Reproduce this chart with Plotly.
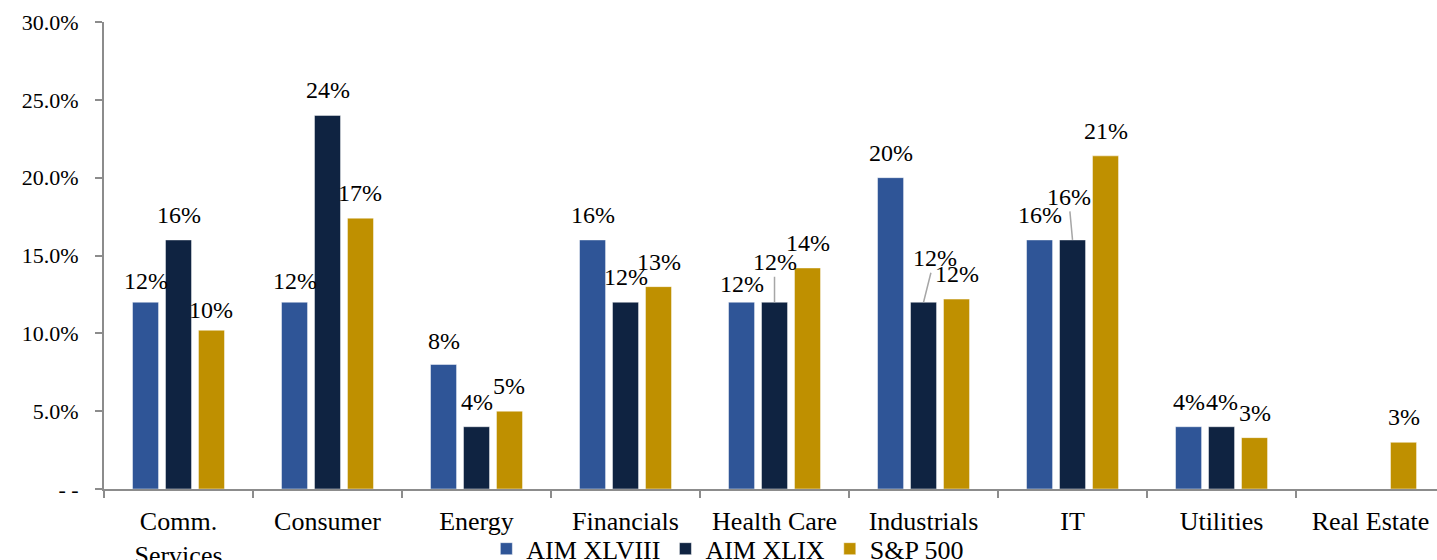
import plotly.graph_objects as go

categories = ["Comm.<br>Services", "Consumer", "Energy", "Financials", "Health Care",
              "Industrials", "IT", "Utilities", "Real Estate"]
series_names = ["AIM XLVIII", "AIM XLIX", "S&P 500"]
aim_xlviii = [12, 12, 8, 16, 12, 20, 16, 4, 0]
aim_xlix = [16, 24, 4, 12, 12, 12, 16, 4, 0]
sp500 = [10.2, 17.4, 5.0, 13.0, 14.2, 12.2, 21.4, 3.3, 3.0]
y_tick_vals = [0, 5, 10, 15, 20, 25, 30]
y_tick_text = ["- -", "5.0%", "10.0%", "15.0%", "20.0%", "25.0%", "30.0%"]

colors = ["#2F5597", "#0F2341", "#BF9000"]
FONT = "Liberation Serif"
BARGAP = 0.336

# displaced labels with leader lines: (series index, category index) -> (ax, ay)
leader_offsets = {(1, 4): (0, -40), (1, 5): (11, -44), (1, 6): (-4, -43)}
# labels sitting closer to their bar: (series index, category index) -> yshift
label_lift = {(0, 0): 6, (0, 1): 6, (2, 0): 5, (0, 4): 3, (0, 2): 8}
DEFAULT_LIFT = 10

fig = go.Figure()
all_series = [aim_xlviii, aim_xlix, sp500]
for name, vals, col in zip(series_names, all_series, colors):
    fig.add_trace(go.Bar(x=categories, y=vals, name=name,
                         marker=dict(color=col, line=dict(color="rgba(255,255,255,0.6)", width=0.8))))

slot = (1 - BARGAP) / 3
for j, vals in enumerate(all_series):
    for i, v in enumerate(vals):
        if v <= 0:
            continue
        xpos = i + (j - 1) * slot
        txt = f"{round(v)}%"
        if (j, i) in leader_offsets:
            ax, ay = leader_offsets[(j, i)]
            fig.add_annotation(x=xpos, y=v, text=txt, showarrow=True, arrowhead=0,
                               arrowcolor="#A6A6A6", arrowwidth=1.5, ax=ax, ay=ay,
                               standoff=0, font=dict(family=FONT, size=24, color="black"))
        else:
            fig.add_annotation(x=xpos, y=v, text=txt, showarrow=False, yanchor="bottom",
                               yshift=label_lift.get((j, i), DEFAULT_LIFT),
                               font=dict(family=FONT, size=24, color="black"))

fig.update_layout(
    width=1437, height=560,
    margin=dict(l=104, r=0, t=22, b=71, autoexpand=False),
    paper_bgcolor="white", plot_bgcolor="white",
    barmode="group", bargap=BARGAP, bargroupgap=0.21,
    font=dict(family=FONT, size=26, color="black"),
    showlegend=True,
    legend=dict(orientation="h", x=0.468, xanchor="center", y=-0.128, yanchor="middle",
                font=dict(family=FONT, size=26, color="black"), itemwidth=30,
                bgcolor="rgba(0,0,0,0)"),
    xaxis=dict(range=[-0.5, 8.446], showline=True, linecolor="#8C8C8C", linewidth=2,
               ticks="outside", tickson="boundaries", ticklen=7, tickcolor="#8C8C8C",
               tickwidth=2, showgrid=False, tickfont=dict(family=FONT, size=26),
               fixedrange=True, automargin=False, ticklabelstandoff=8),
    yaxis=dict(range=[0, 30], tickvals=y_tick_vals, ticktext=y_tick_text,
               showline=True, linecolor="#8C8C8C", linewidth=2, ticks="outside",
               ticklen=7, tickcolor="#8C8C8C", tickwidth=2, showgrid=False,
               zeroline=False, tickfont=dict(family=FONT, size=22),
               ticklabelstandoff=12, automargin=False),
)

fig.write_html("out.html")
